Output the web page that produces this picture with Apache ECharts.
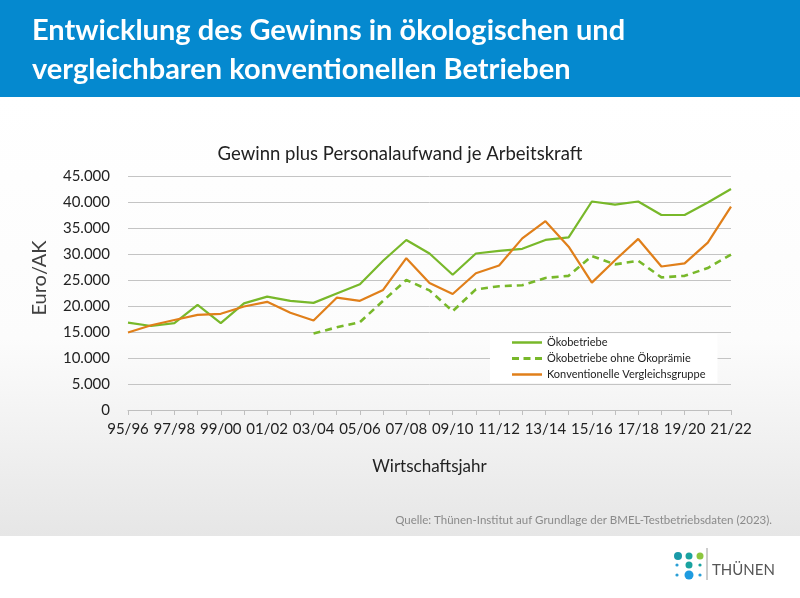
<!DOCTYPE html>
<html>
<head>
<meta charset="utf-8">
<title>Gewinn je Arbeitskraft</title>
<script src="https://cdn.jsdelivr.net/npm/echarts@6/dist/echarts.min.js"></script>
<style>
    html, body {margin: 0; padding: 0; background: #ffffff;}
    #MyChart {width: 800px; height: 598px;}
</style>
</head>
<body>
<div id="MyChart"></div>
<script>
// Wirtschaftsjahre 95/96 ... 21/22
var Jahre = ['95/96', '96/97', '97/98', '98/99', '99/00', '00/01', '01/02', '02/03', '03/04',
    '04/05', '05/06', '06/07', '07/08', '08/09', '09/10', '10/11', '11/12', '12/13', '13/14',
    '14/15', '15/16', '16/17', '17/18', '18/19', '19/20', '20/21', '21/22']

// Ökobetriebe
var Oeko = [16800, 16150, 16700, 20200, 16700, 20500, 21800, 21000, 20600, 22400, 24200, 28700,
    32700, 30100, 26000, 30100, 30600, 31000, 32700, 33200, 40100, 39500, 40100, 37500, 37500,
    39900, 42500]

// Ökobetriebe ohne Ökoprämie (erst ab 03/04)
var OekoOhne = [null, null, null, null, null, null, null, null, 14700, 15900, 16900, 21000,
    25000, 23000, 19000, 23200, 23800, 24000, 25400, 25800, 29600, 28000, 28700, 25500, 25800,
    27300, 29900]

// Konventionelle Vergleichsgruppe
var Konv = [14900, 16300, 17300, 18300, 18500, 19900, 20800, 18700, 17200, 21600, 21000, 23100,
    29200, 24400, 22300, 26300, 27800, 33000, 36300, 31400, 24500, 28800, 32900, 27600, 28200,
    32200, 39100]

var gruen = '#78b82a'
var orange = '#e07f1a'
var schrift = 'Lato, "Open Sans", sans-serif'

// Legenden-Symbole: durchgezogene und gestrichelte Linie
var iconLinie = 'path://M0,0 L30,0 L30,2.5 L0,2.5 Z'
var iconStrich = 'path://M0,0 L7,0 L7,3 L0,3 Z M11.5,0 L18.5,0 L18.5,3 L11.5,3 Z M23,0 L30,0 L30,3 L23,3 Z'

var chartDom = document.getElementById('MyChart');
var myChart = echarts.init(chartDom);
var option;

option = {
    animation: false,
    textStyle: {fontFamily: schrift},
    // Hintergrund, Kopfzeile, Quelle und Logo
    graphic: [
        {
            type: 'rect', z: -10, silent: true,
            shape: {x: 0, y: 97, width: 800, height: 439},
            style: {
                fill: new echarts.graphic.LinearGradient(0, 0, 0, 1, [
                    {offset: 0, color: '#ffffff'},
                    {offset: 0.55, color: '#fcfcfc'},
                    {offset: 1, color: '#e6e6e6'}
                ])
            }
        },
        {
            type: 'rect', z: -9, silent: true,
            shape: {x: 0, y: 0, width: 800, height: 97},
            style: {fill: '#0589cf'}
        },
        {
            type: 'text', left: 32, top: 11,
            style: {
                text: 'Entwicklung des Gewinns in ökologischen und\nvergleichbaren konventionellen Betrieben',
                fill: '#ffffff', font: 'bold 29px ' + schrift, lineHeight: 39
            }
        },
        {
            type: 'text', right: 28, top: 514,
            style: {
                text: 'Quelle: Thünen-Institut auf Grundlage der BMEL-Testbetriebsdaten (2023).',
                fill: '#8a8a8a', font: '11.5px ' + schrift
            }
        },
        // Logo Thünen
        {type: 'circle', shape: {cx: 678, cy: 556, r: 4}, style: {fill: '#1a9aa8'}},
        {type: 'circle', shape: {cx: 689, cy: 556, r: 3.5}, style: {fill: '#1aa3a0'}},
        {type: 'circle', shape: {cx: 700, cy: 556, r: 3.5}, style: {fill: '#8cc63f'}},
        {type: 'circle', shape: {cx: 677, cy: 565, r: 1.6}, style: {fill: '#2a9fd6'}},
        {type: 'circle', shape: {cx: 689, cy: 565, r: 3.5}, style: {fill: '#1aa3a0'}},
        {type: 'circle', shape: {cx: 700, cy: 565, r: 1.6}, style: {fill: '#1aa3a0'}},
        {type: 'circle', shape: {cx: 677, cy: 575, r: 1.6}, style: {fill: '#2a9fd6'}},
        {type: 'circle', shape: {cx: 689, cy: 575, r: 4.5}, style: {fill: '#1e9be0'}},
        {type: 'circle', shape: {cx: 700, cy: 575, r: 1.6}, style: {fill: '#2a9fd6'}},
        {type: 'line', shape: {x1: 707, y1: 548, x2: 707, y2: 580}, style: {stroke: '#9a9a9a', lineWidth: 1}},
        {
            type: 'text', left: 712, top: 563,
            style: {text: 'THÜNEN', fill: '#555555', font: '15px ' + schrift}
        }
    ],
    title: {
        text: 'Gewinn plus Personalaufwand je Arbeitskraft',
        left: 'center',
        top: 140,
        textStyle: {
            color: '#222222',
            fontWeight: 'normal',
            fontFamily: schrift,
            fontSize: 18.5
        }
    },
    legend: {
        orient: 'vertical',
        left: 490,
        top: 334,
        itemWidth: 30,
        itemHeight: 10,
        itemGap: 5,
        padding: [3, 12, 3, 22],
        backgroundColor: '#ffffff',
        textStyle: {fontSize: 11, color: '#222222', fontFamily: schrift},
        data: [
            {name: 'Ökobetriebe', icon: iconLinie},
            {name: 'Ökobetriebe ohne Ökoprämie', icon: iconStrich},
            {name: 'Konventionelle Vergleichsgruppe', icon: iconLinie}
        ]
    },
    grid: {
        left: 128,
        right: 69,
        top: 176,
        bottom: 188
    },
    xAxis: {
        type: 'category',
        data: Jahre,
        boundaryGap: false,
        name: 'Wirtschaftsjahr',
        nameLocation: 'center',
        nameGap: 48,
        nameTextStyle: {color: '#222222', fontSize: 17, fontFamily: schrift},
        axisLine: {lineStyle: {color: '#bfbfbf', width: 1}},
        axisTick: {show: true, interval: 0, length: 5, lineStyle: {color: '#bfbfbf'}},
        axisLabel: {
            interval: 1,
            color: '#222222',
            fontSize: 15,
            margin: 12,
            fontFamily: schrift
        }
    },
    yAxis: {
        type: 'value',
        min: 0,
        max: 45000,
        interval: 5000,
        name: 'Euro/AK',
        nameRotate: 90,
        nameLocation: 'center',
        nameGap: 78,
        nameTextStyle: {color: '#404040', fontSize: 20, fontFamily: schrift, padding: [0, 0, 0, 30]},
        axisLine: {show: false},
        axisTick: {show: false},
        splitLine: {lineStyle: {color: '#c4c4c4', width: 1}},
        axisLabel: {
            color: '#222222',
            fontSize: 15,
            margin: 18,
            fontFamily: schrift,
            formatter: function (v) {
                // Tausenderpunkt wie im Original
                return String(v).replace(/\B(?=(\d{3})+(?!\d))/g, '.')
            }
        }
    },
    series: [
        {
            name: 'Ökobetriebe',
            type: 'line',
            data: Oeko,
            symbol: 'none',
            color: gruen,
            lineStyle: {width: 2.2, color: gruen}
        },
        {
            name: 'Ökobetriebe ohne Ökoprämie',
            type: 'line',
            data: OekoOhne,
            symbol: 'none',
            color: gruen,
            lineStyle: {width: 2.6, color: gruen, type: [7, 5]}
        },
        {
            name: 'Konventionelle Vergleichsgruppe',
            type: 'line',
            data: Konv,
            symbol: 'none',
            color: orange,
            lineStyle: {width: 2.2, color: orange}
        }
    ]
};

option && myChart.setOption(option);
</script>
</body>
</html>
